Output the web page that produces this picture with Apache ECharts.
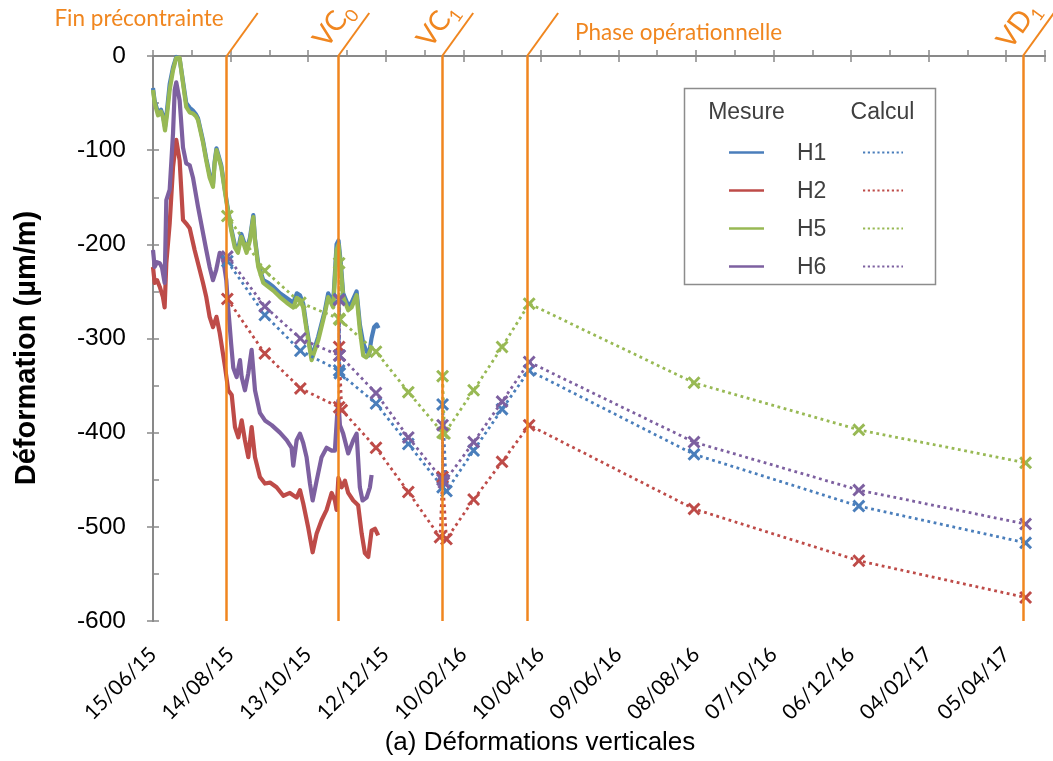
<!DOCTYPE html>
<html>
<head>
<meta charset="utf-8">
<script src="https://cdn.jsdelivr.net/npm/echarts@6/dist/echarts.min.js"></script>
<style>
  html, body { margin: 0; padding: 0; background: #ffffff; }
  #chart { width: 1053px; height: 761px; }
</style>
</head>
<body>
<div id="chart"></div>
<script>
// Horizontal axis is counted in days from 15/06/2015
const tickLabels = ['15/06/15', '14/08/15', '13/10/15', '12/12/15', '10/02/16', '10/04/16',
  '09/06/16', '08/08/16', '07/10/16', '06/12/16', '04/02/17', '05/04/17'];

// Key construction stages (day offsets)
const events = [
  { name: 'Fin précontrainte', day: 57 },
  { name: 'VC0', day: 143.3 },
  { name: 'VC1', day: 223.7 },
  { name: 'Phase opérationnelle', day: 289.4 },
  { name: 'VD1', day: 672.9 }
];

// Measured vertical strains [day, µm/m]
const mesureH1 = [[0,-34],[1.3,-48],[3.9,-60],[6.2,-57],[7.7,-63],[9.3,-75],[10.8,-58],[12.9,-30],[15.5,-12],[18,-1],[20.6,-3],[23.2,-27],[25.7,-50],[28.4,-55],[30.9,-58],[33.2,-62],[34.8,-66],[38.7,-90],[41.2,-109],[43.8,-126],[46.4,-136],[47.7,-112],[49.1,-98],[50.3,-98],[52.8,-116],[55.4,-140],[57.4,-158],[60.5,-183],[63.2,-200],[65.7,-206],[68.3,-189],[69.8,-190],[72.4,-206],[75,-193],[77.6,-169],[78.9,-194],[81.4,-221],[85.3,-238],[89.2,-241],[93,-245],[98.2,-252],[103.4,-257],[108.5,-262],[111.3,-252],[113.7,-254],[116.2,-263],[118.8,-288],[122.7,-320],[127.8,-298],[133,-270],[135.5,-252],[139.4,-262],[142,-200],[143.5,-196],[145.4,-222],[147.1,-252],[151,-265],[153.6,-262],[157.5,-250],[160,-285],[162.6,-305],[165,-313],[167,-318],[169,-300],[171,-288],[173,-285],[174.5,-289]];
const mesureH2 = [[0,-224],[1.3,-241],[3.1,-238],[5.2,-245],[7.7,-256],[9,-267],[10.3,-220],[12.9,-178],[15.5,-118],[18,-89],[20.6,-111],[23.2,-174],[25.7,-178],[28.4,-183],[32.2,-206],[36.1,-227],[38.7,-241],[41.2,-256],[43.8,-277],[46.4,-288],[49.1,-277],[51.6,-294],[53.1,-294],[55.7,-330],[58.2,-355],[60.9,-360],[63.4,-394],[66,-405],[68.6,-387],[71.1,-408],[73.7,-426],[76.3,-394],[78.9,-426],[82.7,-447],[86.6,-454],[90.5,-453],[95.6,-458],[100.8,-467],[105.9,-464],[111.1,-469],[113.7,-461],[116.2,-475],[120.1,-501],[123.5,-527],[126.6,-507],[130.4,-493],[134.3,-482],[138.2,-464],[140.7,-472],[142,-482],[143.4,-448],[145.9,-458],[148.5,-451],[151,-464],[154.9,-472],[158.7,-477],[161.4,-507],[163.9,-528],[166.5,-532],[169.1,-504],[171.7,-502],[174.2,-509]];
const mesureH5 = [[0,-36],[1.3,-50],[3.9,-63],[6.2,-59],[7.7,-65],[9.3,-79],[10.8,-63],[12.9,-36],[15.5,-15],[18,-2],[20.6,-2],[23.2,-29],[25.7,-54],[28.4,-60],[30.9,-61],[33.2,-64],[34.8,-68],[38.7,-92],[41.2,-111],[43.8,-129],[46.4,-139],[47.7,-114],[49.1,-100],[50.3,-100],[52.8,-118],[55.4,-142],[57.4,-160],[60.5,-185],[63.2,-203],[65.7,-209],[68.3,-192],[69.8,-192],[72.4,-209],[75,-196],[77.6,-171],[78.9,-196],[81.4,-224],[85.3,-241],[89.2,-245],[93,-249],[98.2,-256],[103.4,-262],[108.5,-267],[111.3,-257],[113.7,-259],[116.2,-267],[118.8,-291],[122.7,-323],[127.8,-302],[133,-273],[135.5,-256],[139.4,-267],[142,-206],[143.5,-200],[145.4,-227],[147.1,-256],[151,-270],[153.6,-267],[157.5,-254],[160,-291],[162.6,-318],[165,-320],[167,-316],[169.5,-308]];
const mesureH6 = [[0,-206],[1.3,-224],[3.1,-219],[5.2,-220],[7,-225],[9,-241],[10.3,-153],[12.9,-142],[15.5,-82],[16.8,-36],[18,-28],[20.6,-47],[23.2,-97],[25.7,-114],[28.4,-116],[30.9,-129],[34.8,-160],[37.3,-178],[41.2,-206],[43.8,-224],[46.4,-238],[48.9,-227],[51.6,-209],[54.1,-214],[56.7,-238],[58,-265],[59.3,-286],[60.4,-305],[62.1,-331],[64.7,-341],[67.3,-323],[68.6,-341],[71.1,-355],[73.7,-337],[76.3,-312],[78.9,-355],[82.7,-379],[86.6,-387],[91.8,-392],[98.2,-400],[103.4,-408],[107.2,-416],[108.5,-435],[111.1,-408],[113.7,-401],[116.2,-411],[118.8,-426],[121.4,-454],[123.5,-472],[126.6,-451],[130.4,-426],[134.3,-416],[138.2,-419],[140.7,-419],[142.3,-384],[143.4,-366],[144.6,-392],[147.1,-401],[151,-422],[154.9,-408],[157.5,-401],[160,-458],[162.1,-472],[165.2,-469],[167.8,-458],[169.1,-445]];

// Computed strains [day, µm/m]
const calcH1 = [[57.5,-218],[86.5,-275],[114,-313],[144,-334],[144,-258],[144.5,-337],[172.5,-369],[197.5,-412],[224,-458],[224,-370],[227,-462],[248,-419],[270,-375],[291,-334],[418.5,-423],[546,-478],[675,-517]];
const calcH2 = [[57.5,-258],[86.5,-316],[114,-353],[144,-373],[144,-309],[146,-376],[172.5,-416],[197.5,-463],[222,-511],[224,-447],[227,-513],[248,-471],[270,-431],[291,-392],[418.5,-481],[546,-536],[675,-575]];
const calcH5 = [[57.5,-170],[86.5,-228],[114,-262],[144,-279],[144,-220],[144.5,-280],[172.5,-314],[197.5,-357],[224,-400],[224,-340],[225.5,-401],[248,-355],[270,-309],[291,-263],[418.5,-347],[546,-397],[675,-432]];
const calcH6 = [[57.5,-213],[86.5,-266],[114,-300],[144,-318],[144,-259],[144.5,-318],[172.5,-358],[197.5,-405],[224,-450],[224,-392],[225,-453],[248,-410],[270,-367],[291,-325],[418.5,-410],[546,-461],[675,-497]];

const gauges = [
  { name: 'H1', color: '#4A7EBB', mesure: mesureH1, calc: calcH1 },
  { name: 'H2', color: '#BE4B48', mesure: mesureH2, calc: calcH2 },
  { name: 'H5', color: '#98B954', mesure: mesureH5, calc: calcH5 },
  { name: 'H6', color: '#7D60A0', mesure: mesureH6, calc: calcH6 }
];

const ORANGE = '#F0861F';
const AXIS_GREY = '#898989';
const CROSS = 'path://M0,1.6L1.6,0L5,3.4L8.4,0L10,1.6L6.6,5L10,8.4L8.4,10L5,6.6L1.6,10L0,8.4L3.4,5Z';
const SANS = '"Liberation Sans", Arial, sans-serif';
const CAL = 'Lato, "Open Sans", sans-serif';

const chart = echarts.init(document.getElementById('chart'), null, { renderer: 'canvas' });

const axisLine = { show: true, lineStyle: { color: AXIS_GREY, width: 2 } };
const axisTick = { show: true, inside: true, length: 6, lineStyle: { color: AXIS_GREY, width: 1.5 } };

const series = [];
gauges.forEach(g => {
  series.push({
    name: g.name + ' mesure', type: 'line', data: g.mesure,
    showSymbol: false, symbol: 'none', z: 2,
    lineStyle: { color: g.color, width: 4.2, join: 'round' },
    animation: false
  });
});
gauges.forEach(g => {
  series.push({
    name: g.name + ' calcul', type: 'line', data: g.calc,
    symbol: CROSS, symbolSize: 13, showAllSymbol: true, z: 3,
    lineStyle: { color: g.color, width: 2.8, type: [2.8, 3.6] },
    itemStyle: { color: g.color },
    animation: false
  });
});
// Vertical markers for the construction stages
series.push({
  name: 'phases', type: 'line', data: [], z: 10, silent: true,
  markLine: {
    silent: true, symbol: ['none', 'none'], animation: false,
    label: { show: false },
    lineStyle: { color: ORANGE, width: 2.5, type: 'solid' },
    data: events.map(e => ({ xAxis: e.day }))
  }
});

chart.setOption({
  animation: false,
  backgroundColor: '#ffffff',
  grid: { left: 153, right: 8, top: 56, bottom: 140, containLabel: false },
  xAxis: [
    {
      type: 'value', position: 'bottom', min: 0, max: 690, interval: 30,
      axisLine, axisTick, splitLine: { show: false },
      axisLabel: {
        rotate: 45, margin: 30, align: 'right', verticalAlign: 'middle',
        fontFamily: CAL, fontSize: 21, color: '#000000',
        formatter: v => (v % 60 === 0 ? (tickLabels[v / 60] || '') : '')
      }
    },
    {
      type: 'value', position: 'top', min: 0, max: 690, interval: 60,
      axisLine, axisTick, splitLine: { show: false }, axisLabel: { show: false }
    }
  ],
  yAxis: [
    {
      type: 'value', position: 'left', min: -600, max: 0, interval: 50,
      axisLine, axisTick, splitLine: { show: false },
      axisLabel: {
        margin: 27, fontFamily: SANS, fontSize: 24.5, color: '#000000',
        formatter: v => (v % 100 === 0 ? String(v) : '')
      }
    },
    {
      type: 'value', position: 'right', min: -600, max: 0, interval: 100,
      axisLine, axisTick, splitLine: { show: false }, axisLabel: { show: false }
    }
  ],
  series
});

// Annotations, titles and legend
const toPx = (d, v) => chart.convertToPixel({ xAxisIndex: 0, yAxisIndex: 0 }, [d, v]);
const topY = toPx(0, 0)[1];
const ANG = Math.atan2(43, 31);
const graphic = [];

const orangeText = (txt, sub, x, y) => ({
  type: 'text', x, y, rotation: ANG, z: 20,
  style: {
    text: '{m|' + txt + '}{s|' + sub + '}',
    align: 'center', verticalAlign: 'middle', textAlign: 'center', textVerticalAlign: 'middle',
    rich: {
      m: { fontSize: 28, fontFamily: CAL, fill: ORANGE, color: ORANGE, lineHeight: 38 },
      s: { fontSize: 18, fontFamily: CAL, fill: ORANGE, color: ORANGE, lineHeight: 18, verticalAlign: 'bottom' }
    }
  }
});

events.forEach(e => {
  const x = toPx(e.day, 0)[0];
  graphic.push({
    type: 'line', z: 20, silent: true,
    shape: { x1: x, y1: topY, x2: x + 31, y2: topY - 43 },
    style: { stroke: ORANGE, lineWidth: 2 }
  });
  if (e.name === 'Fin précontrainte') {
    graphic.push({ type: 'text', x: x - 3, y: topY - 37, z: 20,
      style: { text: e.name, fill: ORANGE, fontFamily: CAL, fontSize: 22.5,
        align: 'right', verticalAlign: 'middle', textAlign: 'right', textVerticalAlign: 'middle' } });
  } else if (e.name === 'Phase opérationnelle') {
    graphic.push({ type: 'text', x: x + 48, y: topY - 23, z: 20,
      style: { text: e.name, fill: ORANGE, fontFamily: CAL, fontSize: 22.5,
        align: 'left', verticalAlign: 'middle', textAlign: 'left', textVerticalAlign: 'middle' } });
  } else {
    graphic.push(orangeText(e.name.slice(0, 2), e.name.slice(2), x - 5, topY - 31));
  }
});

// Axis titles
graphic.push({ type: 'text', x: 27, y: 348, rotation: Math.PI / 2, z: 20,
  style: { text: 'Déformation (µm/m)', fill: '#000000', fontFamily: SANS, fontSize: 29, fontWeight: 'bold',
    align: 'center', verticalAlign: 'middle', textAlign: 'center', textVerticalAlign: 'middle' } });
graphic.push({ type: 'text', x: 540, y: 743, z: 20,
  style: { text: '(a) Déformations verticales', fill: '#000000', fontFamily: SANS, fontSize: 26,
    align: 'center', verticalAlign: 'middle', textAlign: 'center', textVerticalAlign: 'middle' } });

// Two-column legend: measured (solid) and computed (dotted)
const LEG_TXT = '#404040';
graphic.push({ type: 'rect', z: 15, shape: { x: 684.5, y: 88.5, width: 251, height: 196 },
  style: { fill: '#ffffff', stroke: '#8c8c8c', lineWidth: 1.5 } });
graphic.push({ type: 'text', x: 746.5, y: 113, z: 16,
  style: { text: 'Mesure', fill: LEG_TXT, fontFamily: SANS, fontSize: 23,
    align: 'center', verticalAlign: 'middle', textAlign: 'center', textVerticalAlign: 'middle' } });
graphic.push({ type: 'text', x: 882.5, y: 113, z: 16,
  style: { text: 'Calcul', fill: LEG_TXT, fontFamily: SANS, fontSize: 23,
    align: 'center', verticalAlign: 'middle', textAlign: 'center', textVerticalAlign: 'middle' } });
gauges.forEach((g, i) => {
  const y = 152.5 + i * 38;
  graphic.push({ type: 'line', z: 16, shape: { x1: 729, y1: y, x2: 764, y2: y },
    style: { stroke: g.color, lineWidth: 2.5 } });
  graphic.push({ type: 'text', x: 797, y: y + 1, z: 16,
    style: { text: g.name, fill: LEG_TXT, fontFamily: SANS, fontSize: 23,
      align: 'left', verticalAlign: 'middle', textAlign: 'left', textVerticalAlign: 'middle' } });
  graphic.push({ type: 'line', z: 16, shape: { x1: 863, y1: y, x2: 903, y2: y },
    style: { stroke: g.color, lineWidth: 2.2, lineDash: [2.2, 2.6] } });
});

chart.setOption({ graphic });
</script>
</body>
</html>
